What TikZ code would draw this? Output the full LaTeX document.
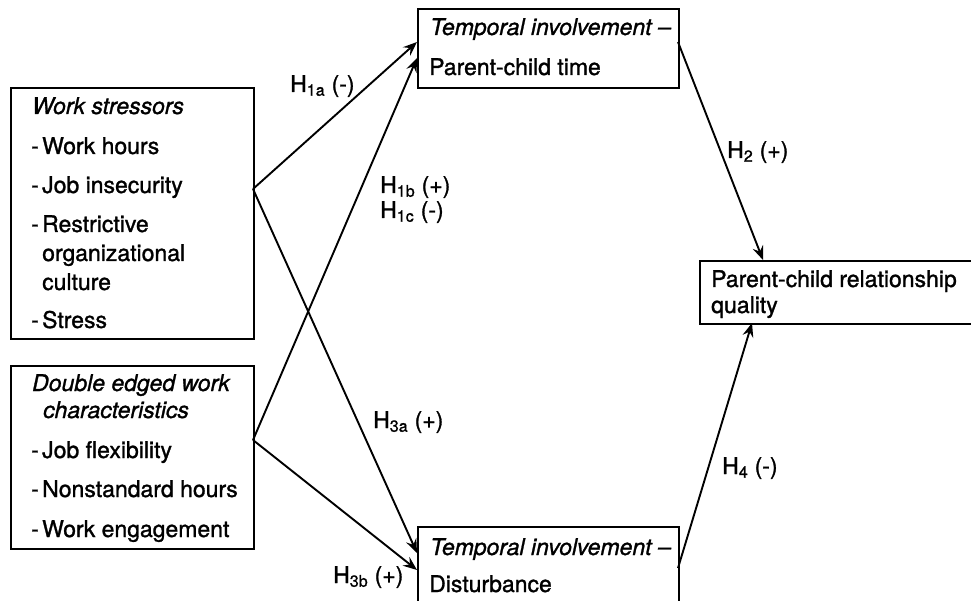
\documentclass[tikz,border=0pt]{standalone}
\usepackage{fontspec}
\setmainfont{TeX Gyre Heros}[FakeBold=1.2]
\usetikzlibrary{arrows.meta}
% list item with a leading dash
\newcommand\dashitem[1]{\makebox[11pt][l]{-}#1}
\newcommand\hyp[2]{H\textsubscript{#1} #2}
\begin{document}
\begin{tikzpicture}[x=1pt,y=-1pt,
  box/.style={draw, line width=2.2pt, inner sep=0pt, anchor=north west},
  txt/.style={anchor=base west, inner sep=0pt, font=\fontsize{23}{27}\selectfont},
  link/.style={line width=1.9pt, -{Stealth[length=14pt,width=11pt,inset=5pt]}}]
\clip (0,0) rectangle (971,601);
\fill[white] (0,0) rectangle (971,601);

% boxes
\node[box, minimum width=243pt, minimum height=251pt] (ws) at (10,87) {};
\node[box, minimum width=243pt, minimum height=183pt] (de) at (10,365) {};
\node[box, minimum width=261pt, minimum height=79pt] (pct) at (417,8) {};
\node[box, minimum width=261pt, minimum height=110pt] (dist) at (417,526) {};
\node[box, minimum width=320pt, minimum height=63pt] (prq) at (699,260) {};

% work stressors
\node[txt] (ws0) at (32,114) {\itshape Work stressors};
\node[txt] (ws1) at (31,154) {\dashitem{Work hours}};
\node[txt] (ws2) at (31,193) {\dashitem{Job insecurity}};
\node[txt] (ws3) at (31,232) {\dashitem{Restrictive}};
\node[txt] (ws4) at (42,261) {organizational};
\node[txt] (ws5) at (42,290) {culture};
\node[txt] (ws6) at (31,328) {\dashitem{Stress}};

% double edged work characteristics
\node[txt] (de0) at (32,391) {\itshape Double edged work};
\node[txt] (de1) at (43,418) {\itshape characteristics};
\node[txt] (de2) at (31,458) {\dashitem{Job flexibility}};
\node[txt] (de3) at (31,497) {\dashitem{Nonstandard hours}};
\node[txt] (de4) at (31,537) {\dashitem{Work engagement}};

% mediators and outcome
\node[txt] (pct0) at (430,35) {\itshape Temporal involvement --};
\node[txt] (pct1) at (429,75) {Parent-child time};
\node[txt] (dist0) at (430,555) {\itshape Temporal involvement --};
\node[txt] (dist1) at (429,592) {Disturbance};
\node[txt] (prq0) at (711,287) {Parent-child relationship};
\node[txt] (prq1) at (711,313) {quality};

% connector ends on the box edges
\coordinate (wsout) at (253,189);
\coordinate (deout) at (253,440);
\coordinate (pctinA) at (417,42);
\coordinate (pctinB) at (417,58);
\coordinate (distinA) at (417,553);
\coordinate (distinB) at (417,570);
\coordinate (pctout) at (678,42);
\coordinate (distout) at (678,568);
\coordinate (prqinT) at (763,260);
\coordinate (prqinB) at (752,323);

\draw[link] (wsout) -- (pctinA);
\draw[link] (deout) -- (pctinB);
\draw[link] (wsout) -- (distinA);
\draw[link] (deout) -- (distinB);
\draw[link] (pctout) -- (prqinT);
\draw[link] (distout) -- (prqinB);

% hypothesis labels
\node[txt] (h1a) at (290,92) {\hyp{1a}{(-)}};
\node[txt] (h1b) at (380,193) {\hyp{1b}{(+)}};
\node[txt] (h1c) at (380,218) {\hyp{1c}{(-)}};
\node[txt] (h2) at (727,158) {\hyp{2}{(+)}};
\node[txt] (h3a) at (373,428) {\hyp{3a}{(+)}};
\node[txt] (h4) at (722,474) {\hyp{4}{(-)}};
\node[txt] (h3b) at (333,583) {\hyp{3b}{(+)}};
\end{tikzpicture}
\end{document}
